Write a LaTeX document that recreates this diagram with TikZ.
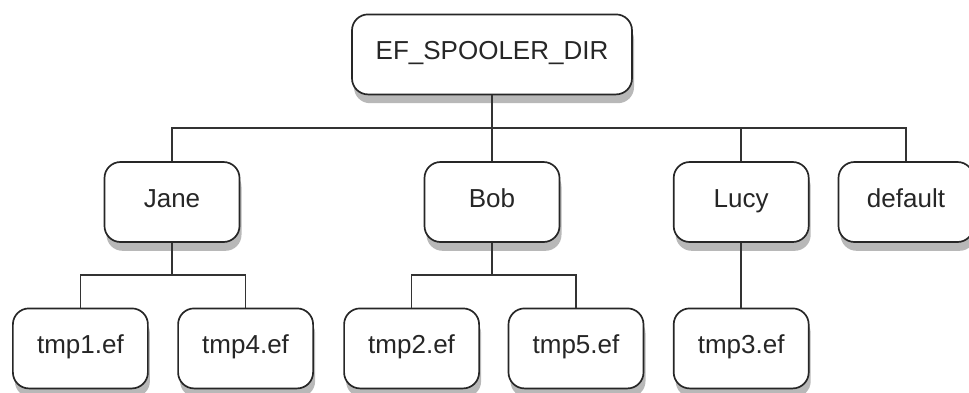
\documentclass[tikz,border=0pt]{standalone}
\usepackage{fontspec}
\setmainfont{Liberation Sans}
\usetikzlibrary{shadows}
\definecolor{shadowgray}{gray}{0.72}

\begin{document}
\begin{tikzpicture}
[   dnode/.style={draw=black!85,fill=white,line width=1.2pt,rounded corners=0.4cm,
        minimum width=#1,minimum height=2cm,inner sep=0pt,text=black!85,
        text height=0.72em,text depth=0pt,
        font=\fontsize{18.5}{22}\selectfont,
        drop shadow={shadow xshift=0.05cm,shadow yshift=-0.22cm,fill=shadowgray,opacity=1}},
    dnode/.default=3.375cm,
    link/.style={draw=black!80,line width=1.2pt},
]
    \useasboundingbox (0,0) rectangle (24.225,-9.8);
    %
    \node[dnode=7cm] (root) at (12.3,-1.36) {EF\_SPOOLER\_DIR};
    \coordinate (top-bar) at (12.3,-3.2);
    \draw[link] (root) -- (top-bar);

    \foreach \name/\txt/\x in {jane/Jane/4.3, bob/Bob/12.3, lucy/Lucy/18.53, default/default/22.65}
    {
        \node[dnode] (\name) at (\x,-5.05) {\txt};
        \draw[link] (top-bar) -| (\name);
    }

    % files under each user
    \foreach \name/\x in {tmp1/2.01, tmp4/6.14, tmp2/10.29, tmp5/14.4, tmp3/18.53}
    {
        \node[dnode] (\name) at (\x,-8.71) {\name.ef};
    }

    \coordinate (jane-bar) at (4.3,-6.875);
    \draw[link] (jane) -- (jane-bar);
    \draw[link] (jane-bar) -| (tmp1);
    \draw[link] (jane-bar) -| (tmp4);

    \coordinate (bob-bar) at (12.3,-6.875);
    \draw[link] (bob) -- (bob-bar);
    \draw[link] (bob-bar) -| (tmp2);
    \draw[link] (bob-bar) -| (tmp5);

    \draw[link] (lucy) -- (tmp3);
\end{tikzpicture}
\end{document}
